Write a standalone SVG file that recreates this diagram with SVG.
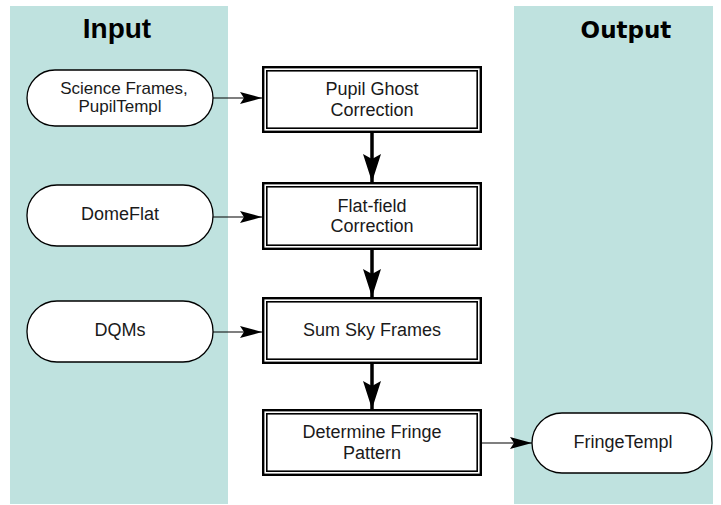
<svg xmlns="http://www.w3.org/2000/svg" width="721" height="505" viewBox="0 0 721 505">
<defs>
<style>
.panel{fill:#bfe2df;stroke:none}
.title{font-family:"Liberation Sans",Arial,sans-serif;font-weight:bold;font-size:28px;fill:#000;text-anchor:middle}
.title2{font-family:"DejaVu Sans",Verdana,sans-serif;font-weight:bold;font-size:23px;fill:#000;text-anchor:middle}
.term{fill:#fff;stroke:#000;stroke-width:1.3}
.outer{fill:#fff;stroke:#000;stroke-width:2.4}
.inner{fill:none;stroke:#000;stroke-width:1.6}
.lbl{font-family:"Liberation Sans",Arial,sans-serif;font-size:18px;fill:#1a1a1a;text-anchor:middle}
.sm{font-size:17px}
.thin{stroke:#000;stroke-width:1.2;fill:none}
.thick{stroke:#000;stroke-width:3.5;fill:none}
</style>
<marker id="ah" markerUnits="userSpaceOnUse" markerWidth="22" markerHeight="12" refX="22" refY="6" orient="auto" viewBox="0 0 22 12">
<path d="M0,0 L22,6 L0,12 L4,6 z" fill="#000"/>
</marker>
<marker id="ahv" markerUnits="userSpaceOnUse" markerWidth="28" markerHeight="18" refX="28" refY="9" orient="auto" viewBox="0 0 28 18">
<path d="M0,0 L28,9 L0,18 L5,9 z" fill="#000"/>
</marker>
</defs>
<rect width="721" height="505" fill="#fff"/>
<rect class="panel" x="10" y="6" width="218" height="498"/>
<rect class="panel" x="514" y="6" width="199" height="498"/>
<text class="title" x="117" y="38">Input</text>
<text class="title2" x="626" y="38">Output</text>

<g id="connectors">
<line class="thin" x1="213" y1="98" x2="262" y2="98" marker-end="url(#ah)"/>
<line class="thin" x1="213" y1="217" x2="262" y2="217" marker-end="url(#ah)"/>
<line class="thin" x1="213" y1="332" x2="262" y2="332" marker-end="url(#ah)"/>
<line class="thin" x1="482" y1="443" x2="532" y2="443" marker-end="url(#ah)"/>
<line class="thick" x1="372" y1="133" x2="372" y2="182" marker-end="url(#ahv)"/>
<line class="thick" x1="372" y1="250" x2="372" y2="297" marker-end="url(#ahv)"/>
<line class="thick" x1="372" y1="364" x2="372" y2="409" marker-end="url(#ahv)"/>
</g>

<g id="in-science">
<rect class="term" x="27" y="70" width="186" height="56" rx="28" ry="28"/>
<text class="lbl sm" x="124" y="93.5">Science Frames,</text>
<text class="lbl sm" x="120" y="112">PupilTempl</text>
</g>
<g id="in-domeflat">
<rect class="term" x="27" y="185" width="186" height="61" rx="30" ry="30"/>
<text class="lbl" x="120" y="219.5">DomeFlat</text>
</g>
<g id="in-dqms">
<rect class="term" x="27" y="301" width="186" height="61" rx="30" ry="30"/>
<text class="lbl" x="120" y="336">DQMs</text>
</g>
<g id="out-fringe">
<rect class="term" x="532" y="413" width="180" height="60" rx="30" ry="30"/>
<text class="lbl" x="623" y="447.5">FringeTempl</text>
</g>

<g id="p-pupil">
<rect class="outer" x="263.2" y="67.2" width="217.6" height="64.6"/>
<rect class="inner" x="266.8" y="70.8" width="210.4" height="57.4"/>
<text class="lbl" x="372" y="95">Pupil Ghost</text>
<text class="lbl" x="372" y="115.5">Correction</text>
</g>
<g id="p-flat">
<rect class="outer" x="263.2" y="183.2" width="217.6" height="65.6"/>
<rect class="inner" x="266.8" y="186.8" width="210.4" height="58.4"/>
<text class="lbl" x="372" y="211.5">Flat-field</text>
<text class="lbl" x="372" y="232">Correction</text>
</g>
<g id="p-sum">
<rect class="outer" x="263.2" y="298.2" width="217.6" height="64.6"/>
<rect class="inner" x="266.8" y="301.8" width="210.4" height="57.4"/>
<text class="lbl" x="372" y="336">Sum Sky Frames</text>
</g>
<g id="p-fringe">
<rect class="outer" x="263.2" y="410.2" width="217.6" height="64.6"/>
<rect class="inner" x="266.8" y="413.8" width="210.4" height="57.4"/>
<text class="lbl" x="372" y="437.5">Determine Fringe</text>
<text class="lbl" x="372" y="458.5">Pattern</text>
</g>
</svg>
